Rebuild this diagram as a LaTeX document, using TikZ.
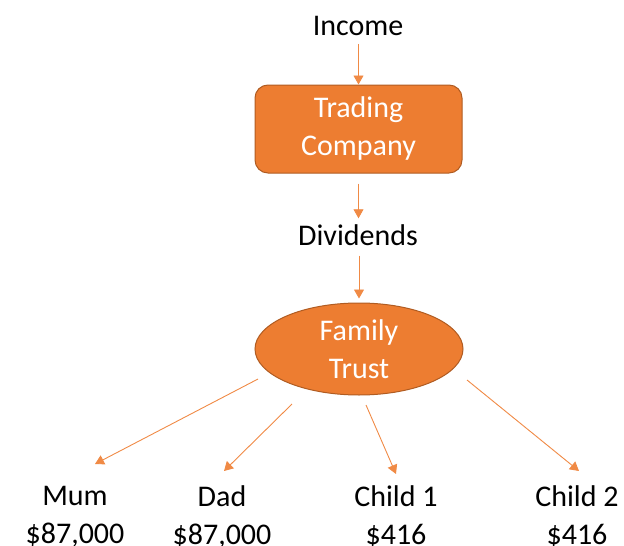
\documentclass[tikz,border=0pt]{standalone}
\usepackage{fontspec}
\setmainfont{Carlito}
\usepackage{tikz}
\usetikzlibrary{shapes.geometric,arrows.meta}
\definecolor{trustorange}{HTML}{ED7D31}
\definecolor{trustedge}{HTML}{B05C22}
\definecolor{flowline}{HTML}{F08A45}
\tikzset{
  lbl/.style={align=center, font=\fontsize{30}{38}\selectfont, inner sep=0pt},
  box/.style={rectangle, draw=trustedge, line width=1pt, fill=trustorange,
              rounded corners=13pt, minimum width=207pt, minimum height=88pt,
              align=center, text=white, font=\fontsize{30}{38}\selectfont},
  oval/.style={ellipse, draw=trustedge, line width=1pt, fill=trustorange,
               minimum width=208pt, minimum height=92pt, inner sep=0pt,
               align=center, text=white, font=\fontsize{30}{38}\selectfont},
  arr/.style={-{Triangle[length=9pt,width=10pt]}, draw=flowline, line width=0.9pt}
}

\begin{document}
\begin{tikzpicture}[x=1pt,y=-1pt]
  \useasboundingbox (0,0) rectangle (624,546);
  % income flows into the company
  \node[lbl] (inc) at (358,26) {Income};
  \node[box] (tc) at (358.5,129) {Trading\\Company};
  \node[lbl] (div) at (358,235) {Dividends};
  \node[oval] (ft) at (359,349) {Family\\Trust};
  \draw[arr, shorten <=8pt] (inc.south -| tc.north) -- (tc.north);
  \draw[arr, shorten <=10pt, shorten >=6pt] (tc.south) -- (div.north -| tc.south);
  \draw[arr, shorten <=10pt, shorten >=4pt] (div.south -| ft.north) -- (ft.north);
  % beneficiaries
  \node[lbl] (mum) at (75,517) {Mum\\\$87,000};
  \node[lbl] (dad) at (222,517) {Dad\\\$87,000};
  \node[lbl] (ch1) at (396,517) {Child 1\\\$416};
  \node[lbl] (ch2) at (577,517) {Child 2\\\$416};
  % distributions out of the trust
  \coordinate (s-mum) at (258,379);
  \coordinate (s-dad) at (292,404);
  \coordinate (s-ch1) at (366,405);
  \coordinate (s-ch2) at (467,380);
  \coordinate (e-mum) at (95,464);
  \coordinate (e-dad) at (224,471);
  \coordinate (e-ch1) at (396,474);
  \coordinate (e-ch2) at (579,471);
  \draw[arr] (s-mum) -- (e-mum);
  \draw[arr] (s-dad) -- (e-dad);
  \draw[arr] (s-ch1) -- (e-ch1);
  \draw[arr] (s-ch2) -- (e-ch2);
\end{tikzpicture}
\end{document}
